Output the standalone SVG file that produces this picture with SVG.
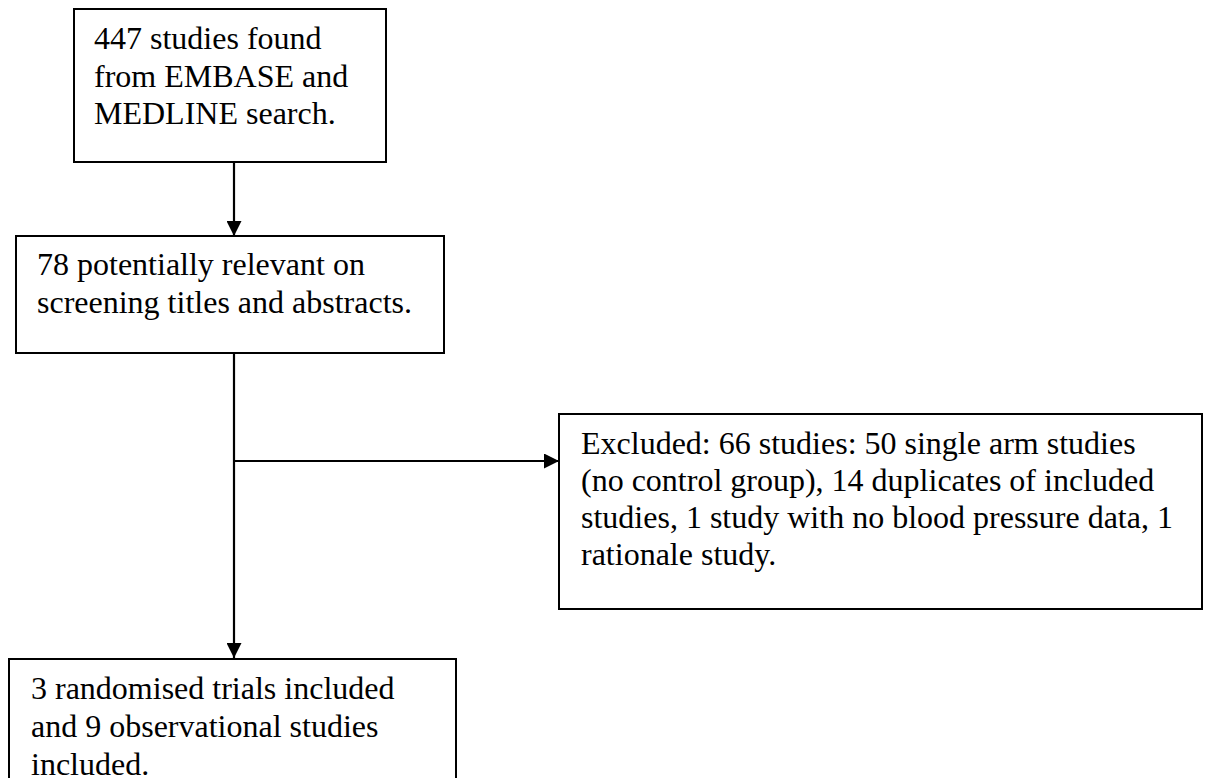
<svg xmlns="http://www.w3.org/2000/svg" width="1207" height="778" viewBox="0 0 1207 778">
<style>
.box{fill:#fff;stroke:#000;stroke-width:2}
.ln{stroke:#000;stroke-width:2.2;fill:none}
svg text.t{font-family:"Liberation Serif","Times New Roman",serif !important;font-size:32px;fill:#000}
</style>
<defs>
<marker id="ah" viewBox="0 0 15 15" refX="15" refY="7.5" markerWidth="15" markerHeight="15" orient="auto" markerUnits="userSpaceOnUse">
<path d="M0,0 L15,7.5 L0,15 Z" fill="#000"/>
</marker>
</defs>
<rect width="1207" height="778" fill="#fff"/>
<g id="connectors">
<line class="ln" x1="234" y1="162" x2="234" y2="236" marker-end="url(#ah)"/>
<line class="ln" x1="234" y1="353" x2="234" y2="658" marker-end="url(#ah)"/>
<line class="ln" x1="234" y1="461" x2="559" y2="461" marker-end="url(#ah)"/>
</g>
<g id="node-search">
<rect class="box" x="74" y="9" width="312" height="153"/>
<text class="t" font-family="Liberation Serif" x="94" y="49">447 studies found</text>
<text class="t" font-family="Liberation Serif" x="94" y="86.5">from EMBASE and</text>
<text class="t" font-family="Liberation Serif" x="94" y="124">MEDLINE search.</text>
</g>
<g id="node-screening">
<rect class="box" x="16" y="236" width="428" height="117"/>
<text class="t" font-family="Liberation Serif" x="37" y="275">78 potentially relevant on</text>
<text class="t" font-family="Liberation Serif" x="37" y="313">screening titles and abstracts.</text>
</g>
<g id="node-excluded">
<rect class="box" x="559" y="414" width="643" height="195"/>
<text class="t" font-family="Liberation Serif" x="581" y="454">Excluded: 66 studies: 50 single arm studies</text>
<text class="t" font-family="Liberation Serif" x="581" y="491">(no control group), 14 duplicates of included</text>
<text class="t" font-family="Liberation Serif" x="581" y="528">studies, 1 study with no blood pressure data, 1</text>
<text class="t" font-family="Liberation Serif" x="581" y="565">rationale study.</text>
</g>
<g id="node-included">
<rect class="box" x="9" y="659" width="447" height="140"/>
<text class="t" font-family="Liberation Serif" x="31" y="699">3 randomised trials included</text>
<text class="t" font-family="Liberation Serif" x="31" y="737">and 9 observational studies</text>
<text class="t" font-family="Liberation Serif" x="31" y="775">included.</text>
</g>
</svg>
